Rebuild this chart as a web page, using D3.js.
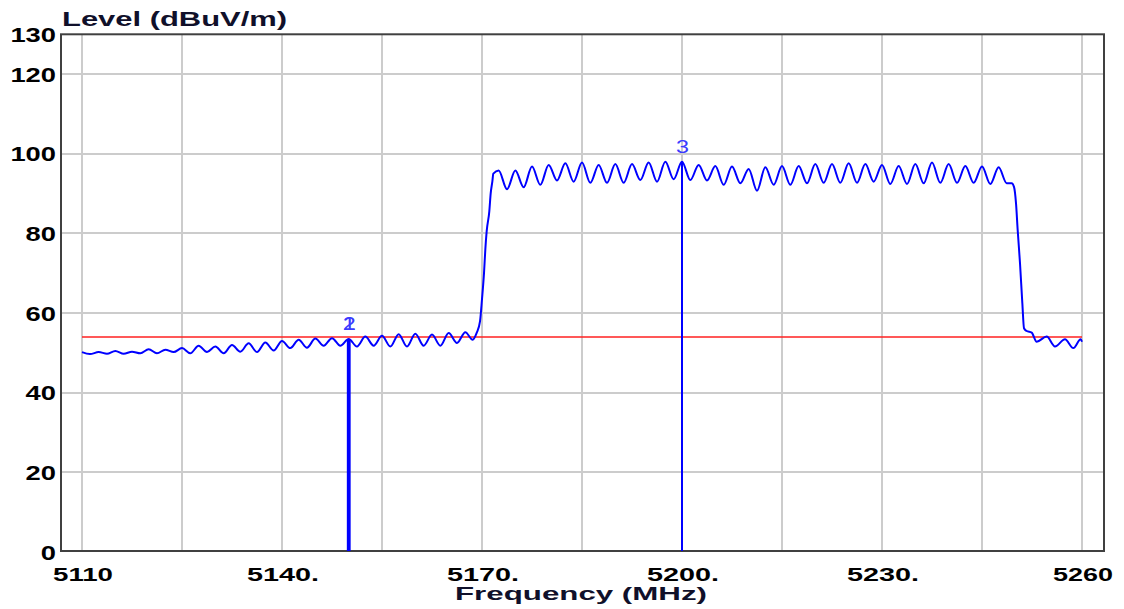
<!DOCTYPE html>
<meta charset="utf-8">
<style>
    body {
        margin: 0;
        background: #fff;
    }

    svg {
        font-family: "Liberation Sans", Arial, sans-serif;
    }

    .grid line {
        stroke: #cccccc;
        stroke-width: 2;
        shape-rendering: crispEdges;
    }

    .tick-label {
        font-weight: bold;
        fill: #000;
    }
</style>
<body>
<script src="https://cdnjs.cloudflare.com/ajax/libs/d3/7.8.5/d3.min.js"></script>
<script>
    const width = 1124;
    const height = 609;

    // axis ticks
    const xTicks = [5110, 5140, 5170, 5200, 5230, 5260];
    const xTickLabels = ['5110', '5140.', '5170.', '5200.', '5230.', '5260'];
    const xGrid = [5110, 5125, 5140, 5155, 5170, 5185, 5200, 5215, 5230, 5245, 5260];
    const yTicks = [130, 120, 100, 80, 60, 40, 20, 0];
    const yGrid = [20, 40, 60, 80, 100, 120];

    // limit line (dBuV/m)
    const limitLevel = 54;

    // markers
    const markerLabels = ['1', '2', '3'];
    const markerFreq = [5150, 5150, 5200];
    const markerLevel = [53.5, 53.5, 98.0];

    // measured trace [MHz, dBuV/m]
    const trace = [
        [5110.0, 50.2], [5111.2, 49.7], [5112.5, 50.2], [5113.75, 49.8], [5115, 50.5], [5116.25, 49.8],
        [5117.5, 50.3], [5118.75, 49.9], [5120, 50.9], [5121.25, 49.9], [5122.5, 50.8], [5123.75, 50.2],
        [5125, 51.2], [5126.25, 49.9], [5127.5, 51.8], [5128.75, 50.2], [5130, 51.6], [5131.25, 49.9],
        [5132.5, 52.0], [5133.75, 50.3], [5135, 52.4], [5136.25, 50.2], [5137.5, 52.6], [5138.75, 50.6],
        [5140, 53.0], [5141.25, 51.2], [5142.5, 53.3], [5143.75, 51.3], [5145, 53.6], [5146.25, 51.8],
        [5147.5, 53.7], [5148.75, 51.8], [5150, 53.5], [5151.25, 51.6], [5152.5, 54.1], [5153.75, 51.8],
        [5155, 54.3], [5156.25, 51.6], [5157.5, 54.7], [5158.75, 51.6], [5160, 54.8], [5161.25, 51.8],
        [5162.5, 54.6], [5163.75, 51.8], [5165, 55.0], [5166.25, 52.5], [5167.5, 55.2], [5168.6, 53.3],
        [5169.2, 55.0], [5169.7, 57.9], [5170.0, 63.5], [5170.3, 70.0], [5170.5, 76.0], [5170.7, 80.5],
        [5171.1, 85.6], [5171.3, 90.0], [5171.55, 93.0], [5171.7, 95.0],
        [5172.5, 95.8], [5173.75, 91.1], [5175, 95.8], [5176.25, 91.6], [5177.5, 96.8], [5178.75, 92.2],
        [5180, 97.2], [5181.25, 93.3], [5182.5, 97.6], [5183.75, 93.0], [5185, 97.8], [5186.25, 92.7],
        [5187.5, 97.2], [5188.75, 92.7], [5190, 97.4], [5191.25, 92.7], [5192.5, 97.4], [5193.75, 93.4],
        [5195, 97.8], [5196.25, 93.0], [5197.5, 98.0], [5198.75, 93.6], [5200, 98.0], [5201.25, 93.4],
        [5202.5, 97.2], [5203.75, 93.3], [5205, 96.9], [5206.25, 92.2], [5207.5, 96.8], [5208.75, 92.6],
        [5210, 96.2], [5211.25, 90.7], [5212.5, 96.6], [5213.75, 92.2], [5215, 96.9], [5216.25, 92.2],
        [5217.5, 96.9], [5218.75, 92.6], [5220, 97.4], [5221.25, 92.7], [5222.5, 97.4], [5223.75, 92.7],
        [5225, 97.6], [5226.25, 92.7], [5227.5, 97.4], [5228.75, 93.0], [5230, 97.2], [5231.25, 92.4],
        [5232.5, 96.9], [5233.75, 92.4], [5235, 97.4], [5236.25, 92.6], [5237.5, 97.8], [5238.75, 92.7],
        [5240, 97.4], [5241.25, 92.7], [5242.5, 96.9], [5243.75, 92.7], [5245, 96.8], [5246.25, 92.4],
        [5247.5, 96.6], [5248.7, 92.6], [5249.45, 92.6], [5249.8, 91.7], [5250.1, 87.6], [5250.35, 80.9],
        [5250.7, 72.5], [5251.05, 62.5], [5251.3, 56.2], [5251.7, 55.5], [5252.45, 55.1], [5253.2, 52.8],
        [5254.7, 54.1], [5255.95, 51.6], [5257.45, 53.4], [5258.7, 51.2], [5259.8, 53.4], [5260, 52.8]
    ];

    const svg = d3.select('body')
        .append('svg')
        .attr('width', width)
        .attr('height', height);

    const x = d3.scaleLinear().domain([5110, 5260]).range([82, 1082]);
    const y = d3.scaleLinear().domain([0, 130]).range([552, 34.3]);

    // plot frame edges
    const frameLeft = x(5110) - 21;
    const frameRight = x(5260) + 22;
    const frameTop = y(130);
    const frameBottom = y(0) - 1;

    // grid
    const grid = svg.append('g').attr('class', 'grid');
    grid.selectAll('.vx')
        .data(xGrid)
        .enter().append('line')
        .attr('x1', d => x(d)).attr('x2', d => x(d))
        .attr('y1', frameTop).attr('y2', frameBottom);
    grid.selectAll('.hy')
        .data(yGrid)
        .enter().append('line')
        .attr('x1', frameLeft).attr('x2', frameRight)
        .attr('y1', d => y(d)).attr('y2', d => y(d));

    // frame
    svg.append('rect')
        .attr('x', frameLeft)
        .attr('y', frameTop)
        .attr('width', frameRight - frameLeft)
        .attr('height', frameBottom - frameTop)
        .style('fill', 'none')
        .style('stroke', '#404040')
        .style('stroke-width', 2);

    // limit line
    svg.append('line')
        .attr('x1', x(5110)).attr('x2', x(5260))
        .attr('y1', y(limitLevel)).attr('y2', y(limitLevel))
        .style('stroke', '#ff2020')
        .style('stroke-width', 1.6);

    // marker lines
    const markers = markerLabels.map((m, i) => ({label: m, f: markerFreq[i], v: markerLevel[i]}));
    const shared = f => markerFreq.filter(g => g === f).length > 1;

    svg.selectAll('.marker')
        .data(markers)
        .enter().append('line')
        .attr('class', 'marker')
        .attr('x1', d => x(d.f)).attr('x2', d => x(d.f))
        .attr('y1', d => y(d.v)).attr('y2', frameBottom)
        .style('stroke', '#0000ff')
        .style('stroke-width', d => shared(d.f) ? 3.5 : 2);

    // trace
    const line = d3.line()
        .x(d => x(d[0]))
        .y(d => y(d[1]))
        .curve(d3.curveMonotoneX);

    svg.append('path')
        .datum(trace)
        .attr('d', line)
        .style('fill', 'none')
        .style('stroke', '#0000ff')
        .style('stroke-width', 2)
        .style('stroke-linejoin', 'round');

    // marker labels
    svg.selectAll('.marker-label')
        .data(markers)
        .enter().append('text')
        .attr('class', 'marker-label')
        .attr('x', d => x(d.f) - 6)
        .attr('y', d => y(d.v) - 9)
        .attr('textLength', 13)
        .attr('lengthAdjust', 'spacingAndGlyphs')
        .style('font-size', '19px')
        .style('fill', '#3a3aff')
        .text(d => d.label);

    // y tick labels
    svg.selectAll('.ylab')
        .data(yTicks)
        .enter().append('text')
        .attr('class', 'tick-label')
        .attr('x', d => 56 - String(d).length * 15.2)
        .attr('y', d => y(d) + 7.5)
        .attr('textLength', d => String(d).length * 15.2)
        .attr('lengthAdjust', 'spacingAndGlyphs')
        .style('font-size', '21px')
        .text(d => d);

    // x tick labels
    svg.selectAll('.xlab')
        .data(xTicks)
        .enter().append('text')
        .attr('class', 'tick-label')
        .attr('x', (d, i) => x(d) + 1 - (xTickLabels[i].length === 5 ? 36 : 30))
        .attr('y', 581)
        .attr('textLength', (d, i) => xTickLabels[i].length === 5 ? 72 : 60)
        .attr('lengthAdjust', 'spacingAndGlyphs')
        .style('font-size', '18px')
        .text((d, i) => xTickLabels[i]);

    // axis titles
    svg.append('text')
        .attr('class', 'tick-label')
        .attr('x', 62)
        .attr('y', 26)
        .attr('textLength', 225)
        .attr('lengthAdjust', 'spacingAndGlyphs')
        .style('font-size', '20px')
        .style('fill', '#10102a')
        .text('Level (dBuV/m)');

    svg.append('text')
        .attr('class', 'tick-label')
        .attr('x', 455)
        .attr('y', 600)
        .attr('textLength', 252)
        .attr('lengthAdjust', 'spacingAndGlyphs')
        .style('font-size', '19px')
        .style('fill', '#10102a')
        .text('Frequency (MHz)');
</script>
</body>
</html>
